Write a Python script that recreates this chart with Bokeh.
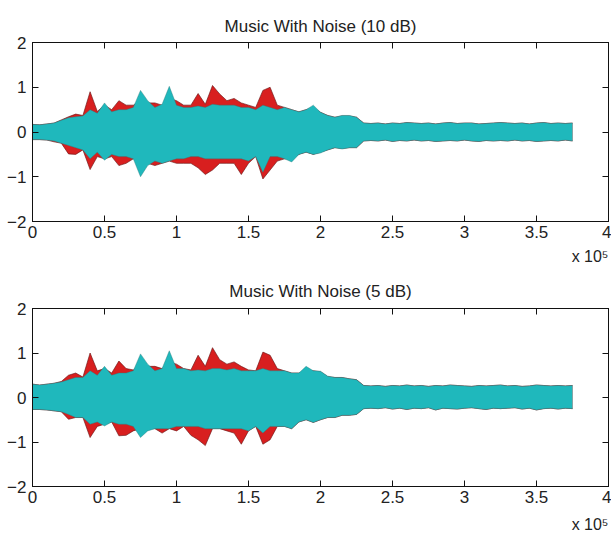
import numpy as np
from bokeh.plotting import figure
from bokeh.layouts import column
from bokeh.models import LinearAxis, Title, FixedTicker
from bokeh.embed import file_html
from bokeh.resources import INLINE

# envelope sample positions: every 5000 samples, 0 .. 375000
step = 5000

# ---------- 10 dB ----------
cyan_up_10 = [0.17,0.16,0.18,0.20,0.26,0.32,0.34,0.36,0.50,0.42,
              0.65,0.45,0.50,0.50,0.55,0.93,0.70,0.55,0.62,1.02,
              0.60,0.55,0.55,0.58,0.55,0.62,0.60,0.60,0.60,0.55,
              0.55,0.50,0.60,0.55,0.50,0.55,0.50,0.45,0.50,0.60,
              0.44,0.37,0.33,0.37,0.37,0.33,0.20]
red_up_10 = [0.17,0.16,0.18,0.20,0.27,0.34,0.40,0.37,0.90,0.46,
             0.60,0.50,0.70,0.60,0.60,0.70,0.65,0.65,0.60,0.75,
             0.70,0.60,0.60,0.86,0.62,1.04,0.85,0.70,0.75,0.65,
             0.60,0.55,0.93,1.00,0.60,0.55,0.50,0.45,0.50,0.55,
             0.44,0.37,0.33,0.36,0.36,0.33,0.20]
cyan_lo_10 = [-0.17,-0.17,-0.18,-0.20,-0.25,-0.30,-0.35,-0.40,-0.60,-0.45,
              -0.63,-0.50,-0.55,-0.55,-0.60,-1.00,-0.75,-0.65,-0.70,-0.65,
              -0.60,-0.60,-0.55,-0.55,-0.60,-0.60,-0.60,-0.60,-0.60,-0.60,
              -0.65,-0.55,-0.90,-0.55,-0.55,-0.60,-0.67,-0.50,-0.45,-0.50,
              -0.47,-0.40,-0.35,-0.38,-0.35,-0.35,-0.20]
red_lo_10 = [-0.17,-0.17,-0.18,-0.22,-0.25,-0.49,-0.50,-0.40,-0.84,-0.55,
             -0.60,-0.55,-0.75,-0.70,-0.60,-0.70,-0.70,-0.75,-0.70,-0.65,
             -0.70,-0.70,-0.70,-0.80,-0.95,-0.85,-0.70,-0.70,-0.70,-0.95,
             -0.70,-0.55,-1.05,-0.85,-0.65,-0.60,-0.60,-0.50,-0.45,-0.50,
             -0.45,-0.40,-0.35,-0.37,-0.35,-0.35,-0.20]
tail_up_10 = [0.19,0.20,0.18,0.20,0.19,0.21,0.20,0.19,0.20,0.18,0.20,0.21,0.19,0.20,0.20,
              0.18,0.19,0.20,0.21,0.20,0.19,0.20,0.18,0.20,0.21,0.19,0.20,0.19,0.20]
tail_lo_10 = [-0.19,-0.20,-0.18,-0.21,-0.19,-0.20,-0.18,-0.20,-0.19,-0.21,-0.20,-0.19,-0.20,-0.18,-0.20,
              -0.21,-0.19,-0.20,-0.19,-0.20,-0.18,-0.20,-0.19,-0.21,-0.20,-0.19,-0.20,-0.18,-0.20]

# ---------- 5 dB ----------
cyan_up_5 = [0.30,0.28,0.30,0.32,0.35,0.40,0.45,0.45,0.60,0.50,
             0.70,0.50,0.55,0.55,0.60,0.98,0.75,0.60,0.65,1.05,
             0.65,0.65,0.60,0.62,0.60,0.65,0.65,0.62,0.65,0.60,
             0.60,0.60,0.65,0.60,0.60,0.60,0.55,0.55,0.70,0.60,
             0.59,0.48,0.45,0.45,0.42,0.40,0.27]
red_up_5 = [0.30,0.28,0.30,0.32,0.36,0.50,0.55,0.46,1.00,0.60,
            0.65,0.55,0.82,0.65,0.62,0.75,0.70,0.70,0.65,0.80,
            0.75,0.65,0.62,0.95,0.70,1.12,0.85,0.75,0.80,0.70,
            0.62,0.60,1.02,0.95,0.65,0.60,0.55,0.55,0.60,0.60,
            0.58,0.47,0.45,0.45,0.42,0.40,0.27]
cyan_lo_5 = [-0.27,-0.27,-0.28,-0.30,-0.32,-0.38,-0.45,-0.45,-0.60,-0.55,
             -0.64,-0.55,-0.60,-0.60,-0.65,-0.90,-0.75,-0.70,-0.70,-0.70,
             -0.65,-0.65,-0.65,-0.65,-0.70,-0.70,-0.70,-0.70,-0.70,-0.70,
             -0.75,-0.65,-0.80,-0.65,-0.65,-0.65,-0.70,-0.55,-0.50,-0.56,
             -0.50,-0.45,-0.45,-0.40,-0.40,-0.38,-0.25]
red_lo_5 = [-0.27,-0.27,-0.28,-0.30,-0.32,-0.49,-0.45,-0.45,-0.90,-0.65,
            -0.60,-0.55,-0.86,-0.85,-0.75,-0.70,-0.70,-0.70,-0.80,-0.70,
            -0.75,-0.65,-0.85,-0.95,-1.08,-0.70,-0.70,-0.75,-0.80,-1.05,
            -0.75,-0.65,-1.05,-0.95,-0.65,-0.65,-0.70,-0.55,-0.50,-0.56,
            -0.50,-0.45,-0.45,-0.40,-0.40,-0.38,-0.25]
tail_up_5 = [0.26,0.27,0.25,0.27,0.26,0.28,0.26,0.27,0.25,0.27,0.26,0.28,0.27,0.26,0.25,
             0.27,0.26,0.27,0.28,0.26,0.27,0.25,0.26,0.28,0.27,0.26,0.27,0.26,0.27]
tail_lo_5 = [-0.24,-0.25,-0.23,-0.26,-0.24,-0.27,-0.24,-0.25,-0.23,-0.28,-0.24,-0.25,-0.26,-0.24,-0.23,
             -0.25,-0.27,-0.24,-0.25,-0.24,-0.23,-0.26,-0.24,-0.28,-0.25,-0.24,-0.26,-0.24,-0.25]

x_ticks = [0, 50000, 100000, 150000, 200000, 250000, 300000, 350000, 400000]
x_tick_labels = ["0", "0.5", "1", "1.5", "2", "2.5", "3", "3.5", "4"]
y_ticks = [-2, -1, 0, 1, 2]
x_exponent = "x 10\u2075"

RED = "#d81f1f"
CYAN = "#1fb8bc"
FONT = "Liberation Sans"
TXT = "#222222"


def style_axis(ax, show_labels, standoff):
    ax.major_tick_in = 6
    ax.major_tick_out = 0
    ax.minor_tick_line_color = None
    ax.axis_line_color = "#111111"
    ax.major_tick_line_color = "#111111"
    ax.major_label_text_font = FONT
    ax.major_label_text_font_size = "17px"
    ax.major_label_text_color = TXT if show_labels else None
    ax.major_label_standoff = standoff if show_labels else 0


def make(title, cu, ru, cl, rl, tu, tl, top, bottom, t_stand, e_stand):
    c_up = np.array(cu + tu)
    r_up = np.array(ru + tu)
    c_lo = np.array(cl + tl)
    r_lo = np.array(rl + tl)
    x = np.arange(len(c_up)) * step
    p = figure(width=611, height=271, x_range=(0, 400000), y_range=(-2, 2),
               output_backend="svg", toolbar_location=None,
               min_border_left=32, min_border_right=3,
               min_border_top=top, min_border_bottom=bottom,
               x_axis_type=None, y_axis_type=None)
    p.title.text = title
    p.title.align = "center"
    p.title.text_font = FONT
    p.title.text_font_size = "17px"
    p.title.text_font_style = "normal"
    p.title.text_color = TXT
    p.title.standoff = t_stand
    p.xgrid.visible = False
    p.ygrid.visible = False
    p.outline_line_color = "#111111"
    p.outline_line_width = 1
    p.background_fill_color = "white"
    p.border_fill_color = "white"

    p.varea(x=x, y1=r_lo, y2=r_up, fill_color=RED)
    p.line(x, r_up, line_color="#6a1414", line_width=0.8, line_alpha=0.8)
    p.line(x, r_lo, line_color="#6a1414", line_width=0.8, line_alpha=0.8)
    p.varea(x=x, y1=c_lo, y2=c_up, fill_color=CYAN)
    p.line(x, c_up, line_color="#2e7d7e", line_width=0.7, line_alpha=0.6)
    p.line(x, c_lo, line_color="#2e7d7e", line_width=0.7, line_alpha=0.6)

    xt = FixedTicker(ticks=x_ticks, minor_ticks=[])
    yt = FixedTicker(ticks=y_ticks, minor_ticks=[])
    overrides = {t: s for t, s in zip(x_ticks, x_tick_labels)}
    bx = LinearAxis(ticker=xt)
    bx.major_label_overrides = overrides
    style_axis(bx, True, 4)
    p.add_layout(bx, "below")
    tx = LinearAxis(ticker=xt)
    style_axis(tx, False, 0)
    p.add_layout(tx, "above")
    ly = LinearAxis(ticker=yt)
    style_axis(ly, True, 6)
    p.add_layout(ly, "left")
    ry = LinearAxis(ticker=yt)
    style_axis(ry, False, 0)
    p.add_layout(ry, "right")

    p.add_layout(Title(text=x_exponent, align="right", text_font=FONT,
                       text_font_size="16px", text_font_style="normal",
                       text_color=TXT, standoff=e_stand), "below")
    return p


p1 = make("Music With Noise (10 dB)", cyan_up_10, red_up_10, cyan_lo_10, red_lo_10,
          tail_up_10, tail_lo_10, 42, 50, 14, 10)
p2 = make("Music With Noise (5 dB)", cyan_up_5, red_up_5, cyan_lo_5, red_lo_5,
          tail_up_5, tail_lo_5, 36, 56, 16, 17)

layout = column(p1, p2, spacing=0)
open("out.html", "w").write(file_html(layout, INLINE))
